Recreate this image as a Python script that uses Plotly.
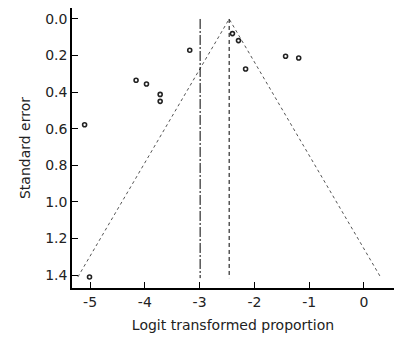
import plotly.graph_objects as go

# Study data: logit transformed proportion vs standard error
logit_prop = [-2.40, -2.29, -3.18, -1.43, -1.19, -2.16, -4.16, -3.97, -3.72, -3.72, -5.10, -5.01]
std_err = [0.080, 0.118, 0.171, 0.204, 0.213, 0.273, 0.335, 0.355, 0.412, 0.450, 0.578, 1.41]

pooled = -2.46      # pooled estimate (dashed line, funnel apex)
ref_line = -2.99    # dash-dot reference line
se_max = 1.41
line_bottom = 1.416

x_ticks = [-5, -4, -3, -2, -1, 0]
y_ticks = [0.0, 0.2, 0.4, 0.6, 0.8, 1.0, 1.2, 1.4]

z = 1.96
funnel_x = [pooled - z * se_max, pooled, pooled + z * se_max]
funnel_y = [se_max, 0, se_max]

fig = go.Figure()
fig.add_trace(go.Scatter(x=funnel_x, y=funnel_y, mode="lines",
                         line=dict(color="#555555", width=1, dash="dot"),
                         hoverinfo="skip", showlegend=False))
fig.add_trace(go.Scatter(x=[pooled, pooled], y=[0, line_bottom], mode="lines",
                         line=dict(color="black", width=1, dash="4px,3px"),
                         showlegend=False))
fig.add_trace(go.Scatter(x=[ref_line, ref_line], y=[0, line_bottom], mode="lines",
                         line=dict(color="black", width=1, dash="10px,2px,2px,2px"),
                         showlegend=False))
fig.add_trace(go.Scatter(x=logit_prop, y=std_err, mode="markers",
                         marker=dict(symbol="circle-open", size=4, color="#222222",
                                     line=dict(width=1.6, color="#222222")),
                         showlegend=False))

font_family = "DejaVu Sans, sans-serif"
fig.update_layout(
    width=412, height=344,
    margin=dict(l=64, r=26, t=0, b=64),
    paper_bgcolor="white", plot_bgcolor="white",
    font=dict(family=font_family, size=14, color="#222222"),
    xaxis=dict(range=[-5.33, 0.55], tickvals=x_ticks, ticktext=[str(v) for v in x_ticks],
               automargin=False,
               showgrid=False, zeroline=False, showline=True, linecolor="black", linewidth=1.5,
               ticks="inside", ticklen=6, tickcolor="black", tickwidth=1,
               title=dict(text="Logit transformed proportion", standoff=12, font=dict(size=14))),
    yaxis=dict(range=[1.47, -0.06], tickvals=y_ticks, ticktext=[f"{v:.1f}" for v in y_ticks],
               automargin=False,
               showgrid=False, zeroline=False, showline=True, linecolor="black", linewidth=1.5,
               ticks="inside", ticklen=6, tickcolor="black", tickwidth=1,
               title=dict(text="Standard error", standoff=11, font=dict(size=14))),
)
fig.write_html("out.html")
